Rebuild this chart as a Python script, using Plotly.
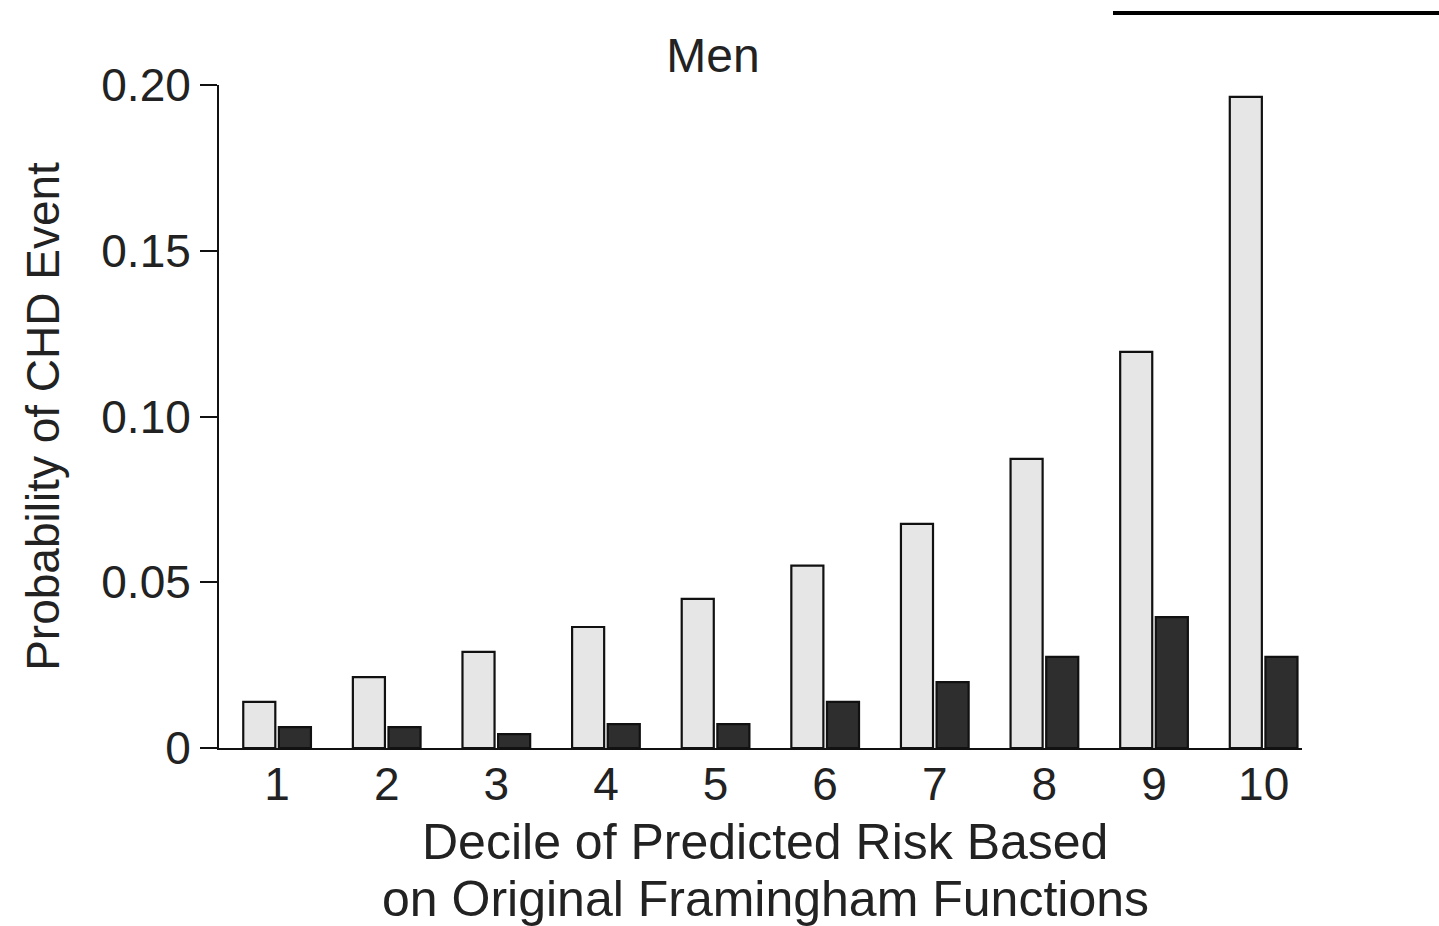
import plotly.graph_objects as go

deciles = [1, 2, 3, 4, 5, 6, 7, 8, 9, 10]
decile_labels = ["1", "2", "3", "4", "5", "6", "7", "8", "9", "10"]
predicted = [0.0139, 0.0214, 0.0290, 0.0365, 0.0450, 0.0550, 0.0676, 0.0872, 0.1195, 0.1964]
observed = [0.0063, 0.0063, 0.0042, 0.0072, 0.0072, 0.0139, 0.0199, 0.0275, 0.0395, 0.0275]
y_tickvals = [0, 0.05, 0.10, 0.15, 0.20]
y_ticktext = ["0", "0.05", "0.10", "0.15", "0.20"]

FONT = "Liberation Sans"
TXT = "#222222"

fig = go.Figure()
fig.add_trace(go.Bar(x=deciles, y=predicted, name="Predicted",
                     marker=dict(color="#e6e6e6", line=dict(color="#111111", width=2.2))))
fig.add_trace(go.Bar(x=deciles, y=observed, name="Observed",
                     marker=dict(color="#2e2e2e", line=dict(color="#111111", width=2.2))))

fig.update_layout(
    width=1439, height=926,
    margin=dict(l=219, r=137, t=85, b=178, autoexpand=False),
    paper_bgcolor="white", plot_bgcolor="white",
    barmode="group", bargap=0.35, bargroupgap=0.1,
    showlegend=False,
    font=dict(family=FONT, color=TXT),
    title=dict(text="Men", x=713 / 1439, xanchor="center", y=1 - 55 / 926, yanchor="middle",
               font=dict(family=FONT, size=48, color=TXT)),
)
fig.update_xaxes(
    range=[0.47, 10.35], tickvals=deciles, ticktext=decile_labels,
    showgrid=False, zeroline=False, showline=True, linecolor="#111111", linewidth=2,
    ticks="", ticklen=0, tickfont=dict(family=FONT, size=46, color=TXT),
    ticklabelstandoff=-5,
)
fig.update_yaxes(
    range=[0, 0.20], tickvals=y_tickvals, ticktext=y_ticktext,
    showgrid=False, zeroline=False, showline=True, linecolor="#111111", linewidth=2,
    ticks="outside", ticklen=17, tickwidth=2, tickcolor="#111111",
    tickfont=dict(family=FONT, size=46, color=TXT),
    title=dict(text="Probability of CHD Event", standoff=27,
               font=dict(family=FONT, size=46, color=TXT)),
)

fig.add_annotation(text="Decile of Predicted Risk Based", xref="paper", yref="paper",
                   x=(765 - 219) / 1083, y=(748 - 842) / 663, xanchor="center", yanchor="middle",
                   showarrow=False, font=dict(family=FONT, size=50, color=TXT))
fig.add_annotation(text="on Original Framingham Functions", xref="paper", yref="paper",
                   x=(765 - 219) / 1083, y=(748 - 899) / 663, xanchor="center", yanchor="middle",
                   showarrow=False, font=dict(family=FONT, size=50, color=TXT))

fig.add_shape(type="line", xref="paper", yref="paper",
              x0=(1113 - 219) / 1083, x1=(1445 - 219) / 1083,
              y0=(748 - 13) / 663, y1=(748 - 13) / 663,
              line=dict(color="black", width=4))

fig.write_html("out.html")
